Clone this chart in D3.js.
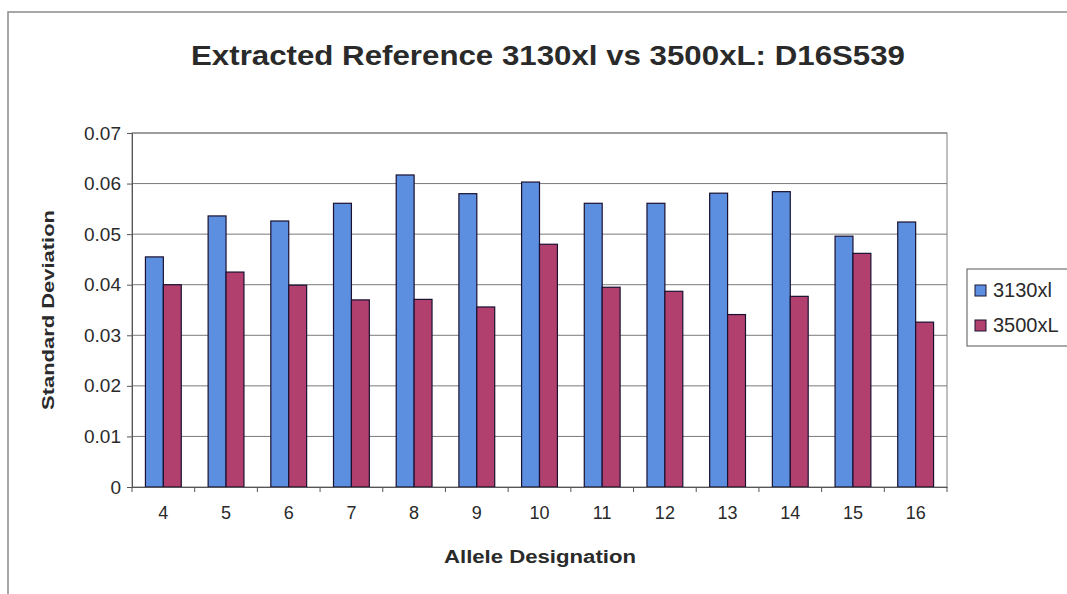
<!DOCTYPE html>
<html>
<head>
<meta charset="utf-8">
<script src="https://cdn.jsdelivr.net/npm/d3@7"></script>
<style>
  body { margin: 0; background: #fff; }
  svg { font-family: Arial, "Liberation Sans", sans-serif; }
</style>
</head>
<body>
<div id="chart"></div>
<script>
// data
var alleles = ["4", "5", "6", "7", "8", "9", "10", "11", "12", "13", "14", "15", "16"];
var series = ["3130xl", "3500xL"];
var values3130 = [0.0455, 0.0536, 0.0526, 0.0561, 0.0617, 0.0580, 0.0603, 0.0561, 0.0561, 0.0581, 0.0584, 0.0496, 0.0524];
var values3500 = [0.0400, 0.0425, 0.0399, 0.0370, 0.0371, 0.0356, 0.0480, 0.0395, 0.0387, 0.0341, 0.0377, 0.0462, 0.0326];
var yTicks = [0, 0.01, 0.02, 0.03, 0.04, 0.05, 0.06, 0.07];

var colors = { "3130xl": "#5d8fe0", "3500xL": "#b2406f" };

var width = 1067, height = 594;
var margin = { left: 132, right: 120, top: 133, bottom: 107 };

var svg = d3.select("#chart").append("svg")
    .attr("width", width)
    .attr("height", height);

// outer chart border (only top and left edges are in view)
svg.append("rect")
    .attr("x", 8).attr("y", 12)
    .attr("width", width + 20).attr("height", height + 20)
    .attr("fill", "none")
    .attr("stroke", "#8a8a8a")
    .attr("stroke-width", 1.5);

var plotW = width - margin.left - margin.right;
var plotH = height - margin.top - margin.bottom;

var g = svg.append("g")
    .attr("transform", "translate(" + margin.left + "," + margin.top + ")");

var x = d3.scaleBand().domain(alleles).range([0, plotW]);
var gapRatio = 1.5;
var barW = x.bandwidth() / (2 + gapRatio);
var xs = d3.scaleBand().domain(series).range([0, barW * 2]);

var y = d3.scaleLinear().domain([0, 0.07]).range([plotH, 0]);

// gridlines
g.selectAll(".grid")
    .data(yTicks.slice(1))
    .enter()
    .append("line")
    .attr("x1", 0).attr("x2", plotW)
    .attr("y1", d => y(d)).attr("y2", d => y(d))
    .attr("stroke", "#7a7a7a")
    .attr("stroke-width", 1);

// plot border
g.append("rect")
    .attr("width", plotW).attr("height", plotH)
    .attr("fill", "none")
    .attr("stroke", "#808080")
    .attr("stroke-width", 1);

var rows = alleles.map(function(a, i) {
    return { allele: a, vals: [
        { s: "3130xl", v: values3130[i] },
        { s: "3500xL", v: values3500[i] }
    ] };
});

var groups = g.selectAll(".grp")
    .data(rows)
    .enter()
    .append("g")
    .attr("transform", d => "translate(" + (x(d.allele) + (x.bandwidth() - barW * 2) / 2) + ",0)");

groups.selectAll("rect")
    .data(d => d.vals)
    .enter()
    .append("rect")
    .attr("x", d => xs(d.s))
    .attr("y", d => y(d.v))
    .attr("width", xs.bandwidth())
    .attr("height", d => plotH - y(d.v))
    .attr("fill", d => colors[d.s])
    .attr("stroke", "#1a1030")
    .attr("stroke-width", 1.2);

// y axis
var yAxis = g.append("g")
    .call(d3.axisLeft(y).tickValues(yTicks).tickSize(5).tickPadding(6)
        .tickFormat(d => d === 0 ? "0" : d3.format(".2f")(d)));
yAxis.select(".domain").attr("stroke", "#555");
yAxis.selectAll(".tick line").attr("stroke", "#555");
yAxis.selectAll("text").style("font-size", "19px").attr("fill", "#2a2a2a");

// x axis, ticks sit between categories
var xAxis = g.append("g")
    .attr("transform", "translate(0," + plotH + ")")
    .call(d3.axisBottom(x).tickSize(0).tickPadding(19));
xAxis.select(".domain").attr("stroke", "#555");
xAxis.selectAll("text").style("font-size", "18px").attr("fill", "#2a2a2a");
xAxis.selectAll(".sep")
    .data(alleles.concat(["end"]))
    .enter()
    .append("line")
    .attr("x1", (d, i) => i * x.step()).attr("x2", (d, i) => i * x.step())
    .attr("y1", 0).attr("y2", 5)
    .attr("stroke", "#555");

// titles
svg.append("text")
    .attr("x", 548).attr("y", 65)
    .attr("text-anchor", "middle")
    .attr("textLength", 714)
    .attr("lengthAdjust", "spacingAndGlyphs")
    .style("font-size", "27px")
    .style("font-weight", "bold")
    .attr("fill", "#2a2a2a")
    .text("Extracted Reference 3130xl vs 3500xL: D16S539");

svg.append("text")
    .attr("x", 540).attr("y", 563)
    .attr("text-anchor", "middle")
    .attr("textLength", 192)
    .attr("lengthAdjust", "spacingAndGlyphs")
    .style("font-size", "18px")
    .style("font-weight", "bold")
    .attr("fill", "#2a2a2a")
    .text("Allele Designation");

svg.append("text")
    .attr("transform", "translate(54," + (margin.top + plotH / 2) + ") rotate(-90)")
    .attr("text-anchor", "middle")
    .attr("textLength", 200)
    .attr("lengthAdjust", "spacingAndGlyphs")
    .style("font-size", "17px")
    .style("font-weight", "bold")
    .attr("fill", "#2a2a2a")
    .text("Standard Deviation");

// legend
var legend = svg.append("g").attr("transform", "translate(967,269)");
legend.append("rect")
    .attr("width", 110).attr("height", 77)
    .attr("fill", "#fff")
    .attr("stroke", "#555");
var items = legend.selectAll(".item")
    .data(series)
    .enter()
    .append("g")
    .attr("transform", (d, i) => "translate(8," + (22 + i * 35) + ")");
items.append("rect")
    .attr("x", 0).attr("y", -6)
    .attr("width", 11).attr("height", 11)
    .attr("fill", d => colors[d])
    .attr("stroke", "#1a1030");
items.append("text")
    .attr("x", 18).attr("y", 6)
    .style("font-size", "20px")
    .attr("fill", "#2a2a2a")
    .text(d => d);
</script>
</body>
</html>
